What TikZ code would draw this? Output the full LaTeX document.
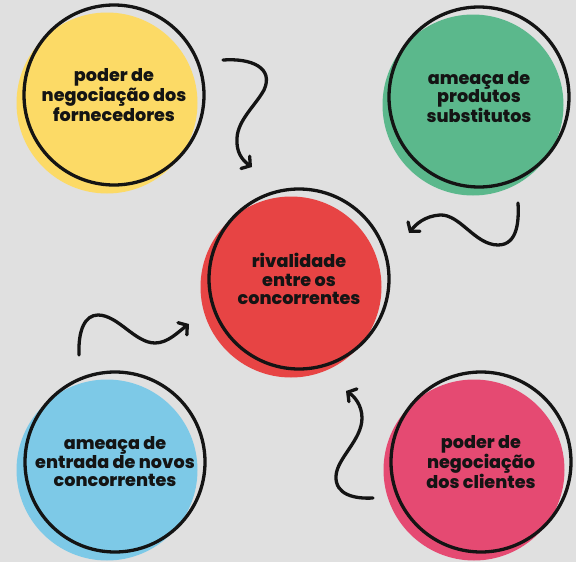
\documentclass[tikz,border=0pt]{standalone}
\usepackage{fontspec}
\setmainfont{Poppins}[BoldFont={Poppins ExtraBold}]
\usetikzlibrary{arrows.meta}
\definecolor{bg}{HTML}{E0E0E0}
\definecolor{cyel}{HTML}{FCDA66}
\definecolor{cgrn}{HTML}{5BB88C}
\definecolor{cred}{HTML}{E74444}
\definecolor{cblu}{HTML}{7DC9E7}
\definecolor{cpnk}{HTML}{E54A72}
\definecolor{ink}{HTML}{141414}
\begin{document}
\begin{tikzpicture}[x=1pt,y=-1pt,
  blob/.style={circle,minimum size=181pt,inner sep=0pt,draw=none},
  ring/.style={circle,minimum size=180pt,inner sep=0pt,draw=ink,line width=3.3pt,
    align=center,text=ink,font=\bfseries\fontsize{17.6}{18.5}\selectfont},
  wave/.style={draw=ink,line width=3.3pt,line cap=round,line join=round,
    -{Straight Barb[length=6pt,width=15pt,line cap=round]}}]
\fill[bg] (0,0) rectangle (576,562);
\useasboundingbox (0,0) rectangle (576,562);
% filled discs
\node[blob,fill=cyel] (yf) at (107,103) {};
\node[blob,fill=cgrn] (gf) at (473,105) {};
\node[blob,fill=cred] (rf) at (291,287) {};
\node[blob,fill=cblu] (bf) at (107,470) {};
\node[blob,fill=cpnk] (pf) at (474,470) {};
% rings with text
\node[ring] (y) at (114,95) {poder de\\negociação dos\\fornecedores};
\node[ring] (g) at (479,97) {ameaça de\\produtos\\substitutos};
\node[ring] (r) at (299,279) {rivalidade\\entre os\\concorrentes};
\node[ring] (b) at (115,462) {ameaça de\\entrada de novos\\concorrentes};
\node[ring] (p) at (481,462) {poder de\\negociação\\dos clientes};
% arrow end points
\coordinate (a1s) at (223,60);  \coordinate (a1e) at (252,167);
\coordinate (a2s) at (518,203); \coordinate (a2e) at (409,233);
\coordinate (a3s) at (79,355);  \coordinate (a3e) at (189,324);
\coordinate (a4s) at (373,498); \coordinate (a4e) at (346,391);
% wavy arrows
\draw[wave] (a1s) .. controls (252,58) and (274,68) .. (264,90)
  .. controls (255,106) and (238,120) .. (237,138)
  .. controls (236,152) and (242,160) .. (a1e);
\draw[wave] (a2s) .. controls (519,220) and (518,245) .. (498,245)
  .. controls (475,245) and (460,214) .. (440,215)
  .. controls (425,216) and (416,224) .. (a2e);
\draw[wave] (a3s) .. controls (78,330) and (85,315) .. (98,315)
  .. controls (118,315) and (135,343) .. (155,343)
  .. controls (168,343) and (178,332) .. (a3e);
\draw[wave] (a4s) .. controls (355,499) and (335,495) .. (336,476)
  .. controls (337,458) and (362,440) .. (362,418)
  .. controls (362,405) and (354,396) .. (a4e);
\end{tikzpicture}
\end{document}
